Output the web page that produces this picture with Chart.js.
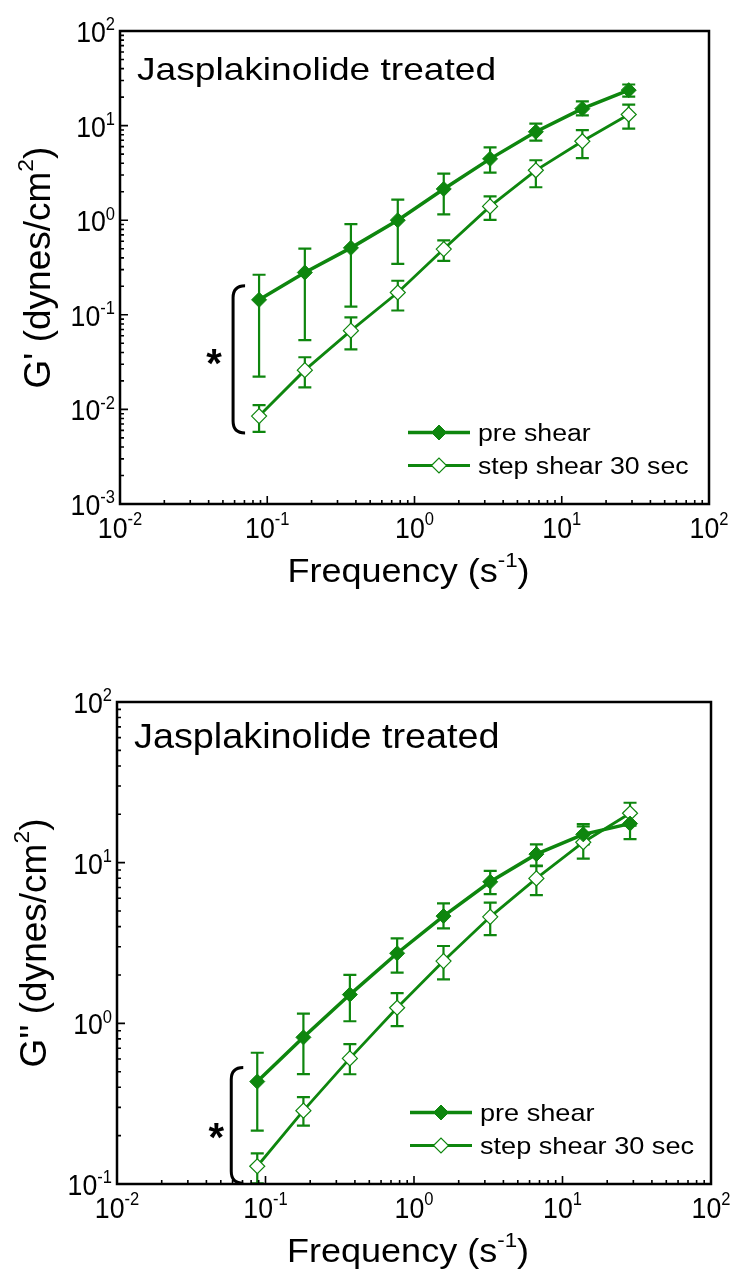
<!DOCTYPE html>
<html>
<head>
<meta charset="utf-8">
<script src="https://cdn.jsdelivr.net/npm/chart.js@4.4.1/dist/chart.umd.min.js"></script>
<style>
    html, body { margin: 0; padding: 0; background: #fff; }
    #wrap { position: relative; width: 735px; height: 1271px; }
    canvas { position: absolute; left: 0; }
</style>
</head>
<body>
<div id="wrap">
    <canvas id="gPrimeChart" width="735" height="636" style="top:0"></canvas>
    <canvas id="gDoubleChart" width="735" height="635" style="top:636px"></canvas>
</div>
<script>
/* ========================================
   Data
   ======================================== */
const frequency = [0.088, 0.18, 0.37, 0.77, 1.58, 3.26, 6.67, 13.8, 28.5];

// G' (storage modulus)
const gpPre      = [0.144, 0.28, 0.51, 1.0, 2.14, 4.45, 8.6, 15.1, 23.7];
const gpPreHi    = [0.265, 0.50, 0.91, 1.65, 3.11, 5.9, 10.5, 18.0, 27.2];
const gpPreLo    = [0.0222, 0.054, 0.122, 0.346, 1.15, 3.19, 6.95, 12.8, 20.2];
const gpStep     = [0.0085, 0.026, 0.068, 0.172, 0.495, 1.40, 3.37, 6.84, 13.1];
const gpStepHi   = [0.0111, 0.0356, 0.094, 0.229, 0.612, 1.79, 4.3, 8.95, 16.7];
const gpStepLo   = [0.0058, 0.0171, 0.043, 0.111, 0.372, 1.01, 2.23, 4.52, 9.3];

// G'' (loss modulus)
const gdPre      = [0.434, 0.818, 1.51, 2.73, 4.65, 7.6, 11.3, 15.0, 17.5];
const gdPreHi    = [0.656, 1.15, 2.0, 3.38, 5.58, 8.9, 13.0, 17.4, 20.5];
const gdPreLo    = [0.215, 0.483, 1.03, 2.07, 3.9, 6.38, 9.5, 13.0, 14.0];
const gdStep     = [0.129, 0.286, 0.605, 1.25, 2.44, 4.6, 7.98, 13.4, 20.3];
const gdStepHi   = [0.155, 0.347, 0.743, 1.54, 3.03, 5.64, 9.6, 16.8, 23.6];
const gdStepLo   = [0.101, 0.231, 0.482, 0.96, 1.88, 3.54, 6.28, 10.6, 17.0];

// decade exponents used for tick labels
const xDecades  = [-2, -1, 0, 1, 2];
const gpDecades = [-3, -2, -1, 0, 1, 2];
const gdDecades = [-1, 0, 1, 2];

const seriesNames = ['pre shear', 'step shear 30 sec'];
const panelTitle = 'Jasplakinolide treated';

const GREEN = '#0e860e';
const FONT = '"Liberation Sans", Arial, sans-serif';

/* ========================================
   Helpers
   ======================================== */
function logTicks(decades) {
    const ticks = [];
    for (let i = 0; i < decades.length; i++) {
        const base = Math.pow(10, decades[i]);
        if (i === decades.length - 1) {
            ticks.push({ value: base, major: true });
            break;
        }
        for (let m = 1; m <= 9; m++) ticks.push({ value: +(m * base).toPrecision(6), major: m === 1 });
    }
    return ticks;
}

// draw text made of normal + superscript parts, optional horizontal stretch
function drawRich(ctx, parts, x, y, size, opts) {
    const o = Object.assign({ align: 'left', sx: 1, raise: 0.42, supScale: 0.62, weight: '' }, opts || {});
    let w = 0;
    parts.forEach(p => {
        ctx.font = o.weight + ' ' + (p.sup ? size * o.supScale : size) + 'px ' + FONT;
        p.w = ctx.measureText(p.t).width;
        w += p.w;
    });
    let x0 = o.align === 'center' ? -w / 2 : (o.align === 'right' ? -w : 0);
    ctx.save();
    ctx.translate(x, y);
    if (o.rotate) ctx.rotate(o.rotate);
    ctx.scale(o.sx, 1);
    ctx.textAlign = 'left';
    ctx.textBaseline = 'alphabetic';
    ctx.fillStyle = '#000';
    parts.forEach(p => {
        ctx.font = o.weight + ' ' + (p.sup ? size * o.supScale : size) + 'px ' + FONT;
        ctx.fillText(p.t, x0, p.sup ? -size * o.raise : 0);
        x0 += p.w;
    });
    ctx.restore();
}

/* ========================================
   Plugins
   ======================================== */
const errorBars = {
    id: 'errorBars',
    beforeDatasetsDraw(chart) {
        const ctx = chart.ctx;
        const x = chart.scales.x, y = chart.scales.y;
        ctx.save();
        chart.data.datasets.forEach(ds => {
            ctx.strokeStyle = ds.borderColor;
            ctx.lineWidth = 2.2;
            ds.errHi.forEach((hi, i) => {
                const px = x.getPixelForValue(frequency[i]);
                const pHi = y.getPixelForValue(hi);
                const pLo = y.getPixelForValue(ds.errLo[i]);
                ctx.beginPath();
                ctx.moveTo(px, pHi); ctx.lineTo(px, pLo);
                ctx.moveTo(px - 6.5, pHi); ctx.lineTo(px + 6.5, pHi);
                ctx.moveTo(px - 6.5, pLo); ctx.lineTo(px + 6.5, pLo);
                ctx.stroke();
            });
        });
        ctx.restore();
    }
};

const frame = {
    id: 'frame',
    afterDraw(chart, args, opts) {
        const ctx = chart.ctx;
        const a = chart.chartArea;
        const xs = chart.scales.x, ys = chart.scales.y;
        ctx.save();

        // box
        ctx.strokeStyle = '#000';
        ctx.lineWidth = 2.5;
        ctx.strokeRect(a.left, a.top, a.right - a.left, a.bottom - a.top);

        // inward ticks
        ctx.lineWidth = 1.6;
        ctx.beginPath();
        xs.ticks.forEach(t => {
            const p = xs.getPixelForValue(t.value);
            if (p <= a.left + 1 || p >= a.right - 1) return;
            ctx.moveTo(p, a.bottom); ctx.lineTo(p, a.bottom - (t.major ? 8 : 4));
        });
        ys.ticks.forEach(t => {
            const p = ys.getPixelForValue(t.value);
            if (p <= a.top + 1 || p >= a.bottom - 1) return;
            ctx.moveTo(a.left, p); ctx.lineTo(a.left + (t.major ? 8 : 4), p);
        });
        ctx.stroke();

        // tick labels 10^n
        xs.ticks.filter(t => t.major).forEach(t => {
            const e = Math.round(Math.log10(t.value));
            drawRich(ctx, [{ t: '10' }, { t: String(e), sup: true }],
                xs.getPixelForValue(t.value), a.bottom + 34, 29, { align: 'center', sx: 0.92, raise: 0.45 });
        });
        ys.ticks.filter(t => t.major).forEach(t => {
            const e = Math.round(Math.log10(t.value));
            drawRich(ctx, [{ t: '10' }, { t: String(e), sup: true }],
                a.left - 5, ys.getPixelForValue(t.value) + 11, 29, { align: 'right', sx: 0.92, raise: 0.4 });
        });

        // axis titles
        const cx = (a.left + a.right) / 2 - 6;
        drawRich(ctx, [{ t: 'Frequency (s' }, { t: '-1', sup: true }, { t: ')' }],
            cx, a.bottom + 78, 34, { align: 'center', sx: 1.06, raise: 0.45 });
        drawRich(ctx, opts.yTitle, opts.yTitleX, (a.top + a.bottom) / 2, 37,
            { align: 'center', rotate: -Math.PI / 2, raise: 0.45 });

        // panel title
        drawRich(ctx, [{ t: panelTitle }], a.left + 17, a.top + opts.titleDy, opts.titleSize,
            { sx: opts.titleSx });

        // legend
        const lx = a.right - 301;
        chart.data.datasets.forEach((ds, i) => {
            const base = a.bottom - (i === 0 ? 63.5 : 30.5);
            const ly = base - 8;
            ctx.strokeStyle = ds.borderColor;
            ctx.lineWidth = ds.borderWidth;
            ctx.beginPath();
            ctx.moveTo(lx, ly); ctx.lineTo(lx + 62, ly);
            ctx.stroke();
            ctx.fillStyle = ds.pointBackgroundColor;
            ctx.strokeStyle = ds.pointBorderColor;
            ctx.lineWidth = ds.pointBorderWidth;
            Chart.helpers.drawPoint(ctx, { pointStyle: ds.pointStyle, radius: ds.pointRadius, borderWidth: ds.pointBorderWidth }, lx + 31, ly);
            drawRich(ctx, [{ t: ds.label }], lx + 70, base, opts.legendSize, { sx: opts.legendSx });
        });

        // significance bracket on the lowest frequency
        const bx = xs.getPixelForValue(frequency[0]) - 26;
        const top = ys.getPixelForValue(chart.data.datasets[0].data[0].y) - 14;
        const bot = ys.getPixelForValue(chart.data.datasets[1].data[0].y) + 17;
        ctx.strokeStyle = '#000';
        ctx.lineWidth = 3;
        ctx.beginPath();
        ctx.moveTo(bx + 12, top);
        ctx.quadraticCurveTo(bx, top, bx, top + 12);
        ctx.lineTo(bx, bot - 12);
        ctx.quadraticCurveTo(bx, bot, bx + 12, bot);
        ctx.stroke();

        ctx.font = 'bold 40px ' + FONT;
        ctx.fillStyle = '#000';
        ctx.textAlign = 'center';
        ctx.textBaseline = 'alphabetic';
        const m = ctx.measureText('*');
        const cy = (top + bot) / 2 + opts.starDy;
        ctx.fillText('*', bx + opts.starDx, cy + (m.actualBoundingBoxAscent - m.actualBoundingBoxDescent) / 2);

        ctx.restore();
    }
};

/* ========================================
   Chart builder
   ======================================== */
function makeDatasets(pre, preHi, preLo, step, stepHi, stepLo) {
    return [
        {
            label: seriesNames[0],
            data: frequency.map((f, i) => ({ x: f, y: pre[i] })),
            errHi: preHi, errLo: preLo,
            borderColor: GREEN, borderWidth: 3.5,
            pointStyle: 'rectRot', pointRadius: 7.5,
            pointBackgroundColor: GREEN, pointBorderColor: GREEN, pointBorderWidth: 1,
            tension: 0
        },
        {
            label: seriesNames[1],
            data: frequency.map((f, i) => ({ x: f, y: step[i] })),
            errHi: stepHi, errLo: stepLo,
            borderColor: GREEN, borderWidth: 2.8,
            pointStyle: 'rectRot', pointRadius: 7.5,
            pointBackgroundColor: '#ffffff', pointBorderColor: GREEN, pointBorderWidth: 1.2,
            tension: 0
        }
    ];
}

function buildChart(id, datasets, yDecades, geom, decor) {
    return new Chart(document.getElementById(id), {
        type: 'line',
        data: { datasets },
        options: {
            responsive: false,
            animation: false,
            events: [],
            layout: { padding: { top: geom.top, right: geom.right, left: 0, bottom: 0 } },
            plugins: { legend: { display: false }, tooltip: { enabled: false }, frame: decor },
            scales: {
                x: {
                    type: 'logarithmic',
                    min: Math.pow(10, xDecades[0]),
                    max: Math.pow(10, xDecades[xDecades.length - 1]),
                    grid: { display: false },
                    border: { display: false },
                    ticks: { display: false, autoSkip: false },
                    afterBuildTicks: s => { s.ticks = logTicks(xDecades); },
                    afterFit: s => { s.height = geom.xHeight; }
                },
                y: {
                    type: 'logarithmic',
                    min: Math.pow(10, yDecades[0]),
                    max: Math.pow(10, yDecades[yDecades.length - 1]),
                    grid: { display: false },
                    border: { display: false },
                    ticks: { display: false, autoSkip: false },
                    afterBuildTicks: s => { s.ticks = logTicks(yDecades); },
                    afterFit: s => { s.width = geom.yWidth; }
                }
            }
        },
        plugins: [errorBars, frame]
    });
}

buildChart('gPrimeChart',
    makeDatasets(gpPre, gpPreHi, gpPreLo, gpStep, gpStepHi, gpStepLo),
    gpDecades,
    { top: 31, right: 26, xHeight: 132, yWidth: 120 },
    {
        yTitle: [{ t: "G' (dynes/cm" }, { t: '2', sup: true }, { t: ')' }],
        yTitleX: 50, titleDy: 49, titleSize: 32, titleSx: 1.16,
        legendSize: 23, legendSx: 1.16, starDy: -2, starDx: -19
    });

buildChart('gDoubleChart',
    makeDatasets(gdPre, gdPreHi, gdPreLo, gdStep, gdStepHi, gdStepLo),
    gdDecades,
    { top: 66, right: 24, xHeight: 87, yWidth: 117 },
    {
        yTitle: [{ t: "G'' (dynes/cm" }, { t: '2', sup: true }, { t: ')' }],
        yTitleX: 46, titleDy: 46, titleSize: 35, titleSx: 1.08,
        legendSize: 24, legendSx: 1.13, starDy: 6, starDx: -15
    });
</script>
</body>
</html>
